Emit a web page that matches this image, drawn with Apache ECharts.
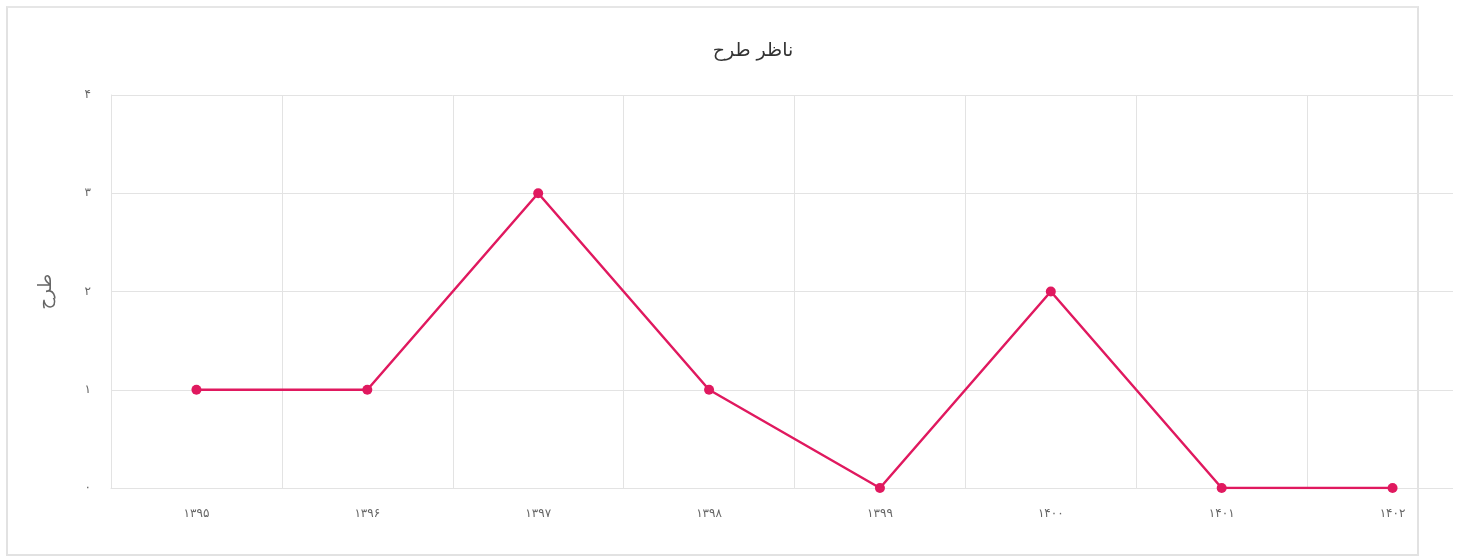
<!DOCTYPE html>
<html>
<head>
<meta charset="utf-8">
<script src="https://cdn.jsdelivr.net/npm/echarts@6/dist/echarts.min.js"></script>
<style>
  html, body { margin: 0; padding: 0; background: #fff; overflow: hidden; }
  #frame { position: absolute; left: 6px; top: 6px; width: 1413px; height: 550px;
           box-sizing: border-box; border: 2px solid #e2e2e2; border-top-color: #e6e6e6; }
  #clip { position: absolute; left: 0; top: 0; width: 1453px; height: 556px; overflow: hidden; }
  #chart { width: 1506px; height: 556px; }
</style>
</head>
<body>
<div id="frame"></div>
<div id="clip"><div id="chart"></div></div>
<script>
const years = ['۱۳۹۵', '۱۳۹۶', '۱۳۹۷', '۱۳۹۸', '۱۳۹۹', '۱۴۰۰', '۱۴۰۱', '۱۴۰۲'];
const counts = [1, 1, 3, 1, 0, 2, 0, 0];
const yTickLabels = ['۰', '۱', '۲', '۳', '۴'];

const font = 'DejaVu Sans, sans-serif';
const chart = echarts.init(document.getElementById('chart'), null, { renderer: 'canvas' });
chart.setOption({
  animation: false,
  title: {
    text: 'ناظر طرح',
    left: 'center',
    top: 37,
    textStyle: { fontFamily: font, fontSize: 19, fontWeight: 'normal', color: '#333' }
  },
  grid: { left: 111, right: 28, top: 95, bottom: 68 },
  xAxis: {
    type: 'category',
    data: years,
    boundaryGap: true,
    axisLine: { lineStyle: { color: '#e3e3e3' } },
    axisTick: { show: false },
    axisLabel: { color: '#666', fontFamily: font, fontSize: 12, margin: 20 },
    splitLine: { show: true, lineStyle: { color: '#e3e3e3' } }
  },
  yAxis: {
    type: 'value',
    min: 0,
    max: 4,
    interval: 1,
    name: 'طرح',
    nameLocation: 'middle',
    nameGap: 56,
    nameRotate: 90,
    nameTextStyle: { color: '#666', fontFamily: font, fontSize: 18 },
    axisLine: { show: true, lineStyle: { color: '#e3e3e3' } },
    axisTick: { show: false },
    axisLabel: {
      color: '#666', fontFamily: font, fontSize: 12, margin: 20,
      formatter: v => yTickLabels[v]
    },
    splitLine: { show: true, lineStyle: { color: '#e3e3e3' } }
  },
  series: [{
    type: 'line',
    data: counts,
    symbol: 'circle',
    symbolSize: 10,
    lineStyle: { color: '#e0195f', width: 2.5 },
    itemStyle: { color: '#e0195f' }
  }]
});
</script>
</body>
</html>
